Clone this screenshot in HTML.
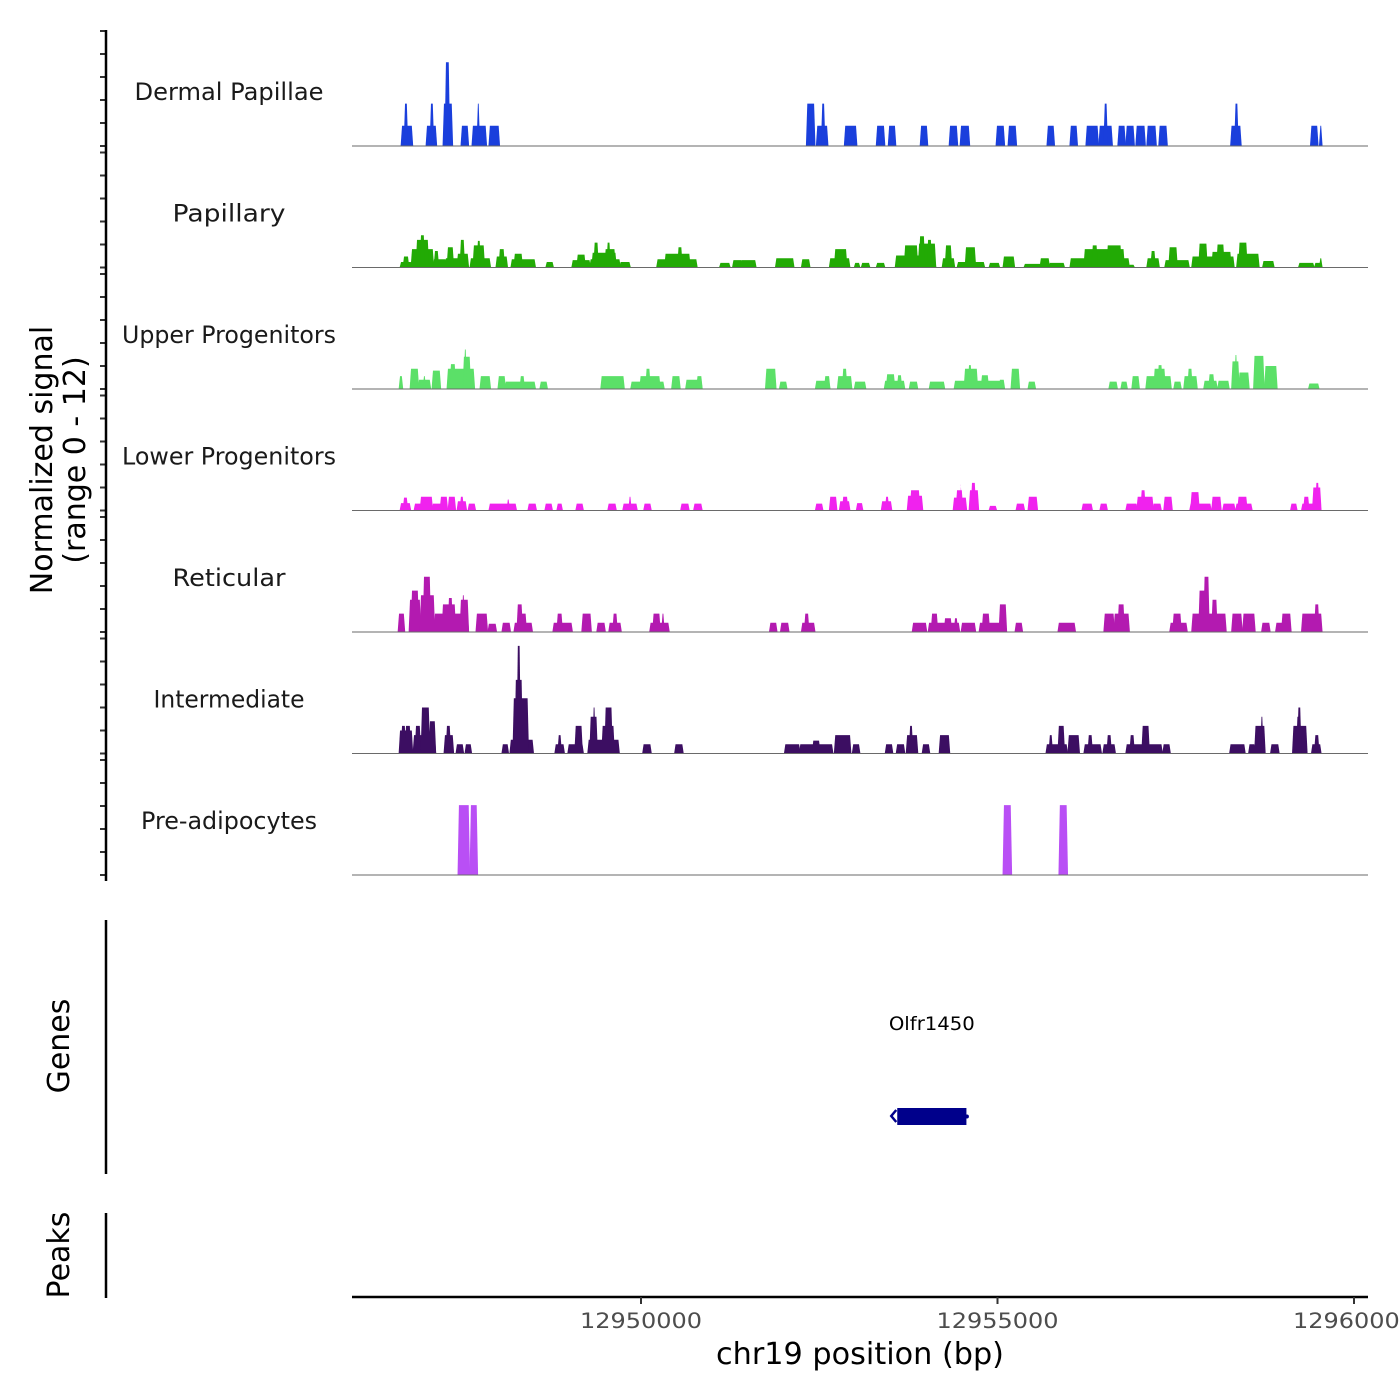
<!DOCTYPE html>
<html><head><meta charset="utf-8"><style>
html,body{margin:0;padding:0;background:#fff;}
svg{display:block;font-family:"DejaVu Sans","Liberation Sans",sans-serif;}
</style></head><body>
<svg id="chart" width="1400" height="1400" viewBox="0 0 1400 1400" xmlns="http://www.w3.org/2000/svg">
<rect width="1400" height="1400" fill="#fff"/>
<g id="tracks"></g>
<g id="axes"></g>
</svg>
<script>
// ---- data ----
const trackNames = ["Dermal Papillae","Papillary","Upper Progenitors","Lower Progenitors","Reticular","Intermediate","Pre-adipocytes"];
const trackColors = ["#1a3fdc","#22aa05","#5be068","#f022ee","#b31ab0","#3c0e62","#b94ff5"];
const xTicks = [12950000,12955000,12960000];
const xTickLabels = ["12950000","12955000","12960000"];
// runs: [start bp, end bp, signal]
const dermalPapillaeRuns = [[12946640,12946794,2.2],[12946682,12946724,4.6],[12946990,12947130,2.2],[12947046,12947088,4.6],[12947228,12947354,4.6],[12947256,12947312,9.1],[12947480,12947578,2.2],[12947634,12947830,2.2],[12947704,12947732,4.6],[12947872,12948012,2.2],[12952324,12952436,4.6],[12952464,12952618,2.2],[12952534,12952576,4.6],[12952856,12953024,2.2],[12953304,12953416,2.2],[12953472,12953570,2.2],[12953920,12954018,2.2],[12954326,12954438,2.2],[12954480,12954606,2.2],[12954984,12955096,2.2],[12955152,12955264,2.2],[12955698,12955796,2.2],[12956020,12956118,2.2],[12956244,12956412,2.2],[12956426,12956608,2.2],[12956496,12956538,4.6],[12956692,12956790,2.2],[12956804,12956916,2.2],[12956944,12957070,2.2],[12957098,12957224,2.2],[12957266,12957378,2.2],[12958274,12958414,2.2],[12958330,12958372,4.6],[12959394,12959492,2.2],[12959520,12959548,2.2]];
const papillaryRuns = [[12946626,12946780,0.6],[12946668,12946740,1.2],[12946780,12947088,2.0],[12946850,12947018,3.0],[12946906,12946962,3.5],[12947088,12947270,0.9],[12947102,12947158,1.8],[12947256,12947438,1.0],[12947284,12947368,2.2],[12947424,12947578,1.5],[12947466,12947522,3.0],[12947606,12947886,1.0],[12947648,12947802,2.4],[12947704,12947746,2.9],[12947970,12948124,1.2],[12948012,12948082,2.0],[12948180,12948516,0.9],[12948222,12948334,1.5],[12948670,12948768,0.6],[12949034,12949286,0.8],[12949104,12949216,1.4],[12949286,12949706,0.9],[12949314,12949650,1.6],[12949342,12949398,2.7],[12949496,12949636,2.0],[12949524,12949566,2.7],[12949706,12949846,0.6],[12950224,12950784,0.9],[12950336,12950686,1.5],[12950518,12950574,2.2],[12951106,12951246,0.5],[12951288,12951414,0.8],[12951400,12951610,0.8],[12951890,12952142,1.0],[12952254,12952366,0.9],[12952646,12952926,1.0],[12952716,12952884,2.0],[12952996,12953066,0.5],[12953094,12953206,0.5],[12953304,12953416,0.5],[12953570,12954130,1.3],[12953696,12953878,2.4],[12953892,12954130,2.6],[12953906,12953976,3.4],[12954018,12954074,3.0],[12954228,12954396,1.0],[12954270,12954354,2.4],[12954438,12954816,0.6],[12954550,12954690,2.2],[12954886,12955026,0.5],[12955082,12955236,1.2],[12955376,12955656,0.4],[12955600,12955726,1.0],[12955726,12955936,0.5],[12956020,12956846,1.0],[12956216,12956776,2.0],[12956328,12956398,2.4],[12956538,12956734,2.4],[12956846,12956916,0.3],[12957098,12957266,1.0],[12957154,12957210,1.8],[12957350,12957686,0.8],[12957406,12957518,2.2],[12957728,12958316,1.2],[12957826,12957938,2.6],[12958008,12958274,1.7],[12958078,12958176,2.5],[12958358,12958666,1.5],[12958386,12958498,2.7],[12958722,12958876,0.7],[12959226,12959436,0.5],[12959450,12959548,0.5],[12959520,12959548,1.0]];
const upperProgenitorsRuns = [[12946612,12946654,1.4],[12946766,12946878,2.2],[12946878,12947046,1.0],[12946948,12946976,1.4],[12947074,12947186,2.0],[12947284,12947662,2.2],[12947326,12947396,2.7],[12947508,12947606,3.5],[12947522,12947550,4.3],[12947746,12947886,1.4],[12947998,12948096,1.4],[12948096,12948516,0.8],[12948306,12948362,1.4],[12948586,12948684,0.8],[12949440,12949762,1.4],[12949860,12950322,0.8],[12949986,12950266,1.4],[12950070,12950126,2.2],[12950434,12950546,1.4],[12950630,12950854,1.0],[12950784,12950854,1.4],[12951750,12951890,2.2],[12951946,12952044,0.8],[12952450,12952646,0.9],[12952576,12952646,1.4],[12952758,12952954,1.4],[12952828,12952884,2.2],[12952996,12953150,0.8],[12953416,12953696,0.9],[12953444,12953556,1.6],[12953598,12953654,1.5],[12953766,12953878,0.8],[12954046,12954256,0.8],[12954396,12955054,0.9],[12954536,12954718,2.2],[12954592,12954634,2.6],[12954774,12954872,1.5],[12955026,12955096,1.0],[12955194,12955306,2.2],[12955432,12955530,0.8],[12956566,12956678,0.8],[12956734,12956818,0.8],[12956888,12956986,1.4],[12957084,12957434,1.4],[12957196,12957350,2.2],[12957252,12957308,2.6],[12957476,12957574,0.8],[12957616,12957798,1.4],[12957672,12957728,2.2],[12957896,12958078,0.9],[12957966,12958036,1.6],[12958092,12958246,0.9],[12958288,12958386,3.0],[12958330,12958358,3.7],[12958386,12958526,1.8],[12958596,12958736,3.6],[12958750,12958918,2.5],[12959366,12959506,0.6]];
const lowerProgenitorsRuns = [[12946626,12946766,0.8],[12946668,12946724,1.4],[12946822,12947074,0.75],[12946906,12947074,1.5],[12947074,12947284,0.75],[12947186,12947284,1.5],[12947298,12947396,1.5],[12947424,12947550,1.0],[12947466,12947508,1.5],[12947578,12947676,0.75],[12947872,12948250,0.75],[12948124,12948152,1.2],[12948418,12948530,0.75],[12948656,12948754,0.75],[12948824,12948894,0.75],[12949090,12949188,0.75],[12949538,12949650,0.75],[12949748,12949944,0.75],[12949832,12949860,1.5],[12950042,12950140,0.75],[12950560,12950672,0.75],[12950742,12950854,0.75],[12952450,12952548,0.75],[12952646,12952744,1.5],[12952786,12952926,1.0],[12952828,12952898,1.5],[12953024,12953108,0.8],[12953374,12953514,1.0],[12953430,12953472,1.5],[12953738,12953948,1.6],[12953780,12953906,2.2],[12954382,12954564,1.4],[12954424,12954508,2.2],[12954480,12954494,2.8],[12954606,12954732,2.2],[12954634,12954690,3.0],[12954886,12954984,0.5],[12955264,12955376,0.75],[12955432,12955558,1.5],[12956188,12956328,0.75],[12956440,12956538,0.75],[12956804,12956958,0.75],[12956958,12957182,1.5],[12957014,12957070,2.2],[12957182,12957294,0.75],[12957336,12957448,1.5],[12957700,12957994,0.75],[12957714,12957826,2.0],[12958008,12958134,1.5],[12958162,12958330,0.75],[12958344,12958568,0.75],[12958372,12958498,1.5],[12959114,12959198,0.75],[12959268,12959534,0.75],[12959296,12959366,1.5],[12959422,12959534,2.5],[12959464,12959506,3.0]];
const reticularRuns = [[12946598,12946682,2.0],[12946752,12946906,3.5],[12946780,12946878,4.5],[12946906,12947102,4.0],[12946948,12947046,6.0],[12947102,12947578,2.0],[12947214,12947396,3.0],[12947298,12947354,3.7],[12947466,12947578,3.5],[12947494,12947522,4.0],[12947690,12947844,2.0],[12947858,12947970,0.9],[12948054,12948166,1.0],[12948222,12948474,1.0],[12948264,12948334,3.0],[12948306,12948390,2.0],[12948768,12949034,1.0],[12948824,12948894,2.0],[12949174,12949300,2.0],[12949384,12949496,1.0],[12949552,12949720,1.0],[12949608,12949664,2.0],[12950126,12950392,1.0],[12950168,12950266,2.0],[12950294,12950322,2.0],[12951806,12951904,1.0],[12951960,12952072,1.0],[12952254,12952436,1.0],[12952296,12952352,2.0],[12953808,12954004,1.0],[12954032,12954466,1.0],[12954074,12954158,2.0],[12954256,12954354,1.5],[12954396,12954438,1.5],[12954494,12954690,1.0],[12954746,12955124,1.0],[12954788,12954886,2.0],[12955026,12955124,3.0],[12955250,12955348,1.0],[12955852,12956090,1.0],[12956496,12956636,2.0],[12956636,12956846,2.0],[12956692,12956776,3.0],[12957420,12957658,1.0],[12957462,12957574,2.0],[12957728,12958204,2.0],[12957826,12957938,4.5],[12957896,12957966,6.0],[12958008,12958078,3.5],[12958288,12958428,2.0],[12958442,12958610,2.0],[12958708,12958820,1.0],[12958904,12959114,1.0],[12958988,12959114,2.0],[12959268,12959548,2.0],[12959450,12959506,3.0]];
const intermediateRuns = [[12946612,12946794,2.5],[12946640,12946696,3.0],[12946696,12946766,3.0],[12946808,12947116,2.0],[12946836,12946906,3.0],[12946920,12947032,5.0],[12947032,12947116,3.5],[12947242,12947368,2.0],[12947270,12947326,3.0],[12947410,12947508,1.0],[12947536,12947620,1.0],[12948054,12948138,1.0],[12948166,12948488,1.5],[12948208,12948418,6.0],[12948236,12948334,8.0],[12948264,12948306,11.7],[12948334,12948418,3.0],[12948796,12948922,1.0],[12948838,12948880,2.0],[12948978,12949188,1.0],[12949076,12949174,3.0],[12949258,12949692,1.5],[12949286,12949384,4.0],[12949328,12949356,5.0],[12949454,12949622,3.0],[12949496,12949594,5.0],[12950028,12950140,1.0],[12950476,12950588,1.0],[12952016,12952226,1.0],[12952226,12952688,1.0],[12952408,12952506,1.4],[12952716,12952940,2.0],[12952968,12953066,1.0],[12953430,12953528,1.0],[12953584,12953696,1.0],[12953724,12953878,2.0],[12953766,12953808,3.0],[12953948,12954046,1.0],[12954186,12954326,2.0],[12955684,12955978,1.0],[12955726,12955768,2.0],[12955852,12955936,3.0],[12955992,12956146,2.0],[12956216,12956454,1.0],[12956272,12956328,2.0],[12956482,12956650,1.0],[12956538,12956594,2.0],[12956804,12957308,1.0],[12956860,12956916,2.0],[12957028,12957126,3.0],[12957322,12957420,1.0],[12958260,12958470,1.0],[12958526,12958610,1.0],[12958610,12958750,3.0],[12958694,12958722,4.0],[12958834,12958946,1.0],[12959142,12959338,3.0],[12959198,12959254,4.0],[12959212,12959254,5.0],[12959408,12959534,1.0],[12959450,12959506,2.0]];
const preAdipocytesRuns = [[12947438,12947592,7.6],[12947606,12947704,7.6],[12955082,12955194,7.6],[12955866,12955978,7.6]];
const allRuns = [dermalPapillaeRuns,papillaryRuns,upperProgenitorsRuns,lowerProgenitorsRuns,reticularRuns,intermediateRuns,preAdipocytesRuns];
const geneName = "Olfr1450";
const geneStart = 12953594, geneEnd = 12954564;

// ---- scales ----
const NS = "http://www.w3.org/2000/svg";
const X0 = 352, X1 = 1368;
function xScale(bp){ return 641 + (bp - 12950000) * (356.5 / 5000); }
const trackStep = 121.5, unitPx = 9.2;
function baseY(i){ return 146 + i * trackStep; }
function yScale(i, v){ return baseY(i) - v * unitPx; }
function mk(tag, attrs, parent){ const e = document.createElementNS(NS, tag); for (const k in attrs) e.setAttribute(k, attrs[k]); parent.appendChild(e); return e; }

const tracks = document.getElementById('tracks');
const axes = document.getElementById('axes');

allRuns.forEach((runs, i) => {
  const g = mk('g', {}, tracks);
  
  
  runs.forEach(r => {
    if (r[2] <= 0) return;
    const xa = xScale(r[0]), xb = xScale(r[1]), y = yScale(i, r[2]), b = baseY(i);
    const p = mk('polygon', {points: `${xa-0.8},${b} ${xa+0.6},${y} ${xb-0.6},${y} ${xb+0.8},${b}`, fill: trackColors[i]}, g);
    
    
  });
  const bl = mk('line', {x1: X0, x2: X1, y1: baseY(i), y2: baseY(i), stroke: '#6a6a6a', 'stroke-width': 1}, g);
  
  
  const t = mk('text', {x: 229, y: baseY(i) - 46, 'text-anchor': 'middle', 'font-size': 24, fill: '#1a1a1a', textLength: Math.round(trackNames[i].length * 12.6), lengthAdjust: 'spacingAndGlyphs'}, g);
  t.textContent = trackNames[i];
  
  
  for (let k = 0; k <= 5; k++) {
    const ty = baseY(i) - k * 23;
    const tk = mk('line', {x1: 100, x2: 106, y1: ty, y2: ty, stroke: '#333', 'stroke-width': 2}, axes);
    
    
  }
});

// left signal axis
const ya = mk('line', {x1: 106, x2: 106, y1: 30, y2: 881, stroke: '#000', 'stroke-width': 2.5}, axes);


const yt = mk('text', {transform: 'translate(52,460) rotate(-90)', 'text-anchor': 'middle', 'font-size': 30, fill: '#000'}, axes);


const ts1 = mk('tspan', {x: 0, dy: 0}, yt); ts1.textContent = 'Normalized signal';
const ts2 = mk('tspan', {x: 0, dy: 33}, yt); ts2.textContent = '(range 0 - 12)';

// genes panel
const ga = mk('line', {x1: 106, x2: 106, y1: 920, y2: 1174, stroke: '#000', 'stroke-width': 2.5}, axes);


const gt = mk('text', {transform: 'translate(69,1046) rotate(-90)', 'text-anchor': 'middle', 'font-size': 30, fill: '#000'}, axes);
gt.textContent = 'Genes';


const gr = mk('rect', {x: xScale(geneStart), y: 1108, width: xScale(geneEnd) - xScale(geneStart), height: 17, fill: '#00008b'}, axes);


const gc = mk('path', {d: `M${xScale(geneStart)-1},1110 l-5,6 l5,6`, stroke: '#00008b', 'stroke-width': 2.5, fill: 'none'}, axes);


const gd = mk('circle', {cx: xScale(geneEnd) + 0.5, cy: 1116.5, r: 2, fill: '#00008b'}, axes);


const gl = mk('text', {x: (xScale(geneStart) + xScale(geneEnd)) / 2 + 0, y: 1030, 'text-anchor': 'middle', 'font-size': 19, fill: '#000', textLength: 86, lengthAdjust: 'spacingAndGlyphs'}, axes);
gl.textContent = geneName;



// peaks panel
const pa = mk('line', {x1: 106, x2: 106, y1: 1213, y2: 1298, stroke: '#000', 'stroke-width': 2.5}, axes);


const pt = mk('text', {transform: 'translate(69,1255) rotate(-90)', 'text-anchor': 'middle', 'font-size': 30, fill: '#000'}, axes);
pt.textContent = 'Peaks';



// x axis
const xa = mk('line', {x1: X0, x2: X1, y1: 1297, y2: 1297, stroke: '#000', 'stroke-width': 2.5}, axes);


xTicks.forEach((v, j) => {
  const x = xScale(v);
  const tk = mk('line', {x1: x, x2: x, y1: 1297, y2: 1304, stroke: '#333', 'stroke-width': 2}, axes);
  
  
  const tl = mk('text', {x: x, y: 1328, 'text-anchor': 'middle', 'font-size': 21, fill: '#4d4d4d', textLength: 122, lengthAdjust: 'spacingAndGlyphs'}, axes);
  tl.textContent = xTickLabels[j];
  
  
});
const xt = mk('text', {x: 860, y: 1364, 'text-anchor': 'middle', 'font-size': 30, fill: '#000', textLength: 288, lengthAdjust: 'spacingAndGlyphs'}, axes);
xt.textContent = 'chr19 position (bp)';


</script>
</body></html>
